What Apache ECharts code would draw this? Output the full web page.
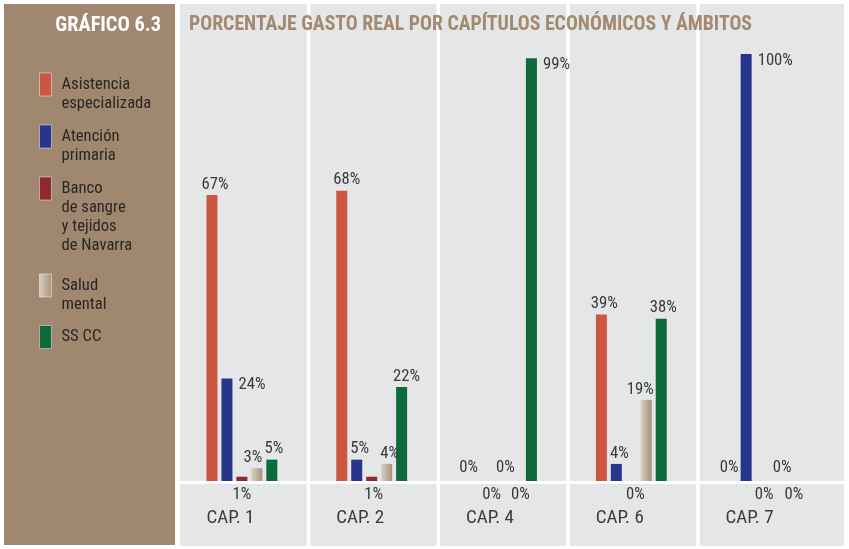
<!DOCTYPE html>
<html>
<head>
<meta charset="utf-8">
<script src="https://cdn.jsdelivr.net/npm/echarts@6/dist/echarts.min.js"></script>
<style>
  html, body { margin: 0; padding: 0; background: #ffffff; }
  #chart { width: 849px; height: 549px; }
</style>
</head>
<body>
<div id="chart"></div>
<script>
// Categories (economic chapters) and series values, in percent
const categories = ['CAP. 1', 'CAP. 2', 'CAP. 4', 'CAP. 6', 'CAP. 7'];
const seriesNames = ['Asistencia especializada', 'Atención primaria', 'Banco de sangre y tejidos de Navarra', 'Salud mental', 'SS CC'];
const legendLabels = ['Asistencia\nespecializada', 'Atención\nprimaria', 'Banco\nde sangre\ny tejidos\nde Navarra', 'Salud\nmental', 'SS CC'];
const asistencia = [67, 68, 0, 39, 0];
const atencion   = [24, 5, 0, 4, 100];
const banco      = [1, 1, 0, 0, 0];
const salud      = [3, 4, 0, 19, 0];
const sscc       = [5, 22, 99, 38, 0];

const TITLE_TEXT = 'PORCENTAJE GASTO REAL POR CAPÍTULOS ECONÓMICOS Y ÁMBITOS';
const BADGE_TEXT = 'GRÁFICO 6.3';

// Pick a condensed face if one is available (font-stretch), otherwise a plain sans
const measureCtx = document.createElement('canvas').getContext('2d');
function textWidth(str, weight, size, family) {
  measureCtx.font = 'normal ' + weight + ' ' + size + 'px ' + family;
  return measureCtx.measureText(str).width;
}
function pickFont() {
  const sample = 'PORCENTAJE GASTO 0123456789 especializada';
  const families = ['Roboto', '"Noto Sans"', '"Open Sans"', '"DejaVu Sans"'];
  for (const f of families) {
    const w0 = textWidth(sample, 'normal', 20, f);
    const w1 = textWidth(sample, 'condensed', 20, f);
    if (w1 < w0 * 0.92) return { family: f, normal: 'condensed', bold: 'bold condensed' };
  }
  return { family: 'Roboto', normal: 'normal', bold: 'bold' };
}
const F = pickFont();
// font size that gives a string a wanted width
function sizeFor(str, wanted, bold) {
  const w = textWidth(str, bold ? F.bold : F.normal, 20, F.family);
  return Math.round(20 * wanted / w * 10) / 10;
}
const SZ = {
  title: sizeFor(TITLE_TEXT, 564, true),
  badge: sizeFor(BADGE_TEXT, 106, true),
  value: sizeFor('67%', 27, false),
  cat: sizeFor('CAP. 1', 48, false),
  legend: sizeFor('especializada', 90, false)
};
const CAP_W = textWidth('CAP. 1', F.normal, SZ.cat, F.family);

const TEXT = '#3a3a3a';

const colors = [
  '#CB5743',
  '#27358C',
  '#8C2A2F',
  new echarts.graphic.LinearGradient(0, 0, 1, 0, [
    { offset: 0, color: '#DAD1C2' },
    { offset: 1, color: '#A6927A' }
  ]),
  '#0D6A3A'
];

// Label placement per series and category: [position, dx, dy]
const labelPlacement = [
  [['top', 3, 0], ['top', 5, 0], ['top', -3, -3], ['top', 3, 0], ['top', -2, -3]],
  [['right', 0, 0], ['top', 3, 0], ['bottom', 5, 0], ['top', 3, 0], ['right', 0, 0]],
  [['bottom', 0, 0], ['bottom', 2, 0], ['top', 4, -3], ['bottom', 4, 0], ['bottom', 3, 0]],
  [['top', -4, 0], ['top', 3, 0], ['bottom', 4, 0], ['top', -6, 0], ['top', 6, -3]],
  [['top', 2, 0], ['top', 5, 0], ['right', 0, 0], ['top', 2, 0], ['bottom', 3, 0]]
];

function labelOpt(p) {
  const [pos, dx, dy] = p;
  const base = {
    show: true,
    formatter: (d) => d.value + '%',
    fontFamily: F.family,
    fontWeight: F.normal,
    fontSize: SZ.value,
    color: TEXT
  };
  if (pos === 'right') {
    return Object.assign(base, { position: [17, -2], align: 'left', verticalAlign: 'top' });
  }
  if (pos === 'bottom') {
    return Object.assign(base, { position: 'bottom', distance: 5, offset: [dx, dy] });
  }
  return Object.assign(base, { position: 'top', distance: 2, offset: [dx, dy] });
}

const allValues = [asistencia, atencion, banco, salud, sscc];

const series = allValues.map((vals, si) => ({
  name: seriesNames[si],
  type: 'bar',
  barWidth: 11,
  barGap: '36%',
  itemStyle: { color: colors[si] },
  data: vals.map((v, ci) => ({ value: v, label: labelOpt(labelPlacement[si][ci]) })),
  emphasis: { disabled: true },
  animation: false
}));

// Legend: one block per series; leading blank lines keep the icon level with the first text line
const iconTops = [73, 125, 177, 274, 325];
const LINE_H = 19;
const ICON_H = 23;
const legends = seriesNames.map((n, i) => {
  const parts = legendLabels[i].split('\n');
  const lines = parts.length;
  const blank = lines - 1;
  const shown = Array(blank).fill('{g|}').concat(parts.map((s) => '{g|}{t|' + s + '}')).join('\n');
  const over = Math.max(0, (lines + blank) * LINE_H / 2 - ICON_H / 2);
  return {
    data: [n],
    left: 39,
    top: iconTops[i] - over,
    padding: 0,
    orient: 'vertical',
    icon: 'rect',
    itemWidth: 12,
    itemHeight: ICON_H,
    selectedMode: false,
    formatter: () => shown,
    itemStyle: { borderColor: 'rgba(255,255,255,0.45)', borderWidth: 1 },
    textStyle: {
      fontFamily: F.family,
      fontWeight: F.normal,
      fontSize: SZ.legend,
      lineHeight: LINE_H,
      color: '#2b2622',
      rich: {
        g: { width: 5, lineHeight: LINE_H },
        t: { fontFamily: F.family, fontWeight: F.normal, fontSize: SZ.legend, lineHeight: LINE_H, color: '#2b2622' }
      }
    }
  };
});

const option = {
  animation: false,
  backgroundColor: '#ffffff',
  title: [
    {
      text: TITLE_TEXT,
      left: 189,
      top: 15,
      padding: 0,
      textStyle: { fontFamily: F.family, fontSize: SZ.title, fontWeight: F.bold, color: '#A38A6F' }
    },
    {
      text: BADGE_TEXT,
      right: 688,
      top: 16,
      padding: 0,
      textStyle: { fontFamily: F.family, fontSize: SZ.badge, fontWeight: F.bold, color: '#ffffff' }
    }
  ],
  legend: legends,
  grid: { left: 177, right: 23, top: 54, bottom: 68, containLabel: false },
  xAxis: {
    type: 'category',
    data: categories,
    axisLine: { show: false },
    axisTick: { show: false },
    axisLabel: {
      margin: 28,
      align: 'center',
      formatter: (v) => '{t|' + v + '}{s|}',
      rich: {
        t: { fontFamily: F.family, fontWeight: F.normal, fontSize: SZ.cat, color: '#3c3c3c' },
        s: { width: Math.max(0, 71 - CAP_W) }
      }
    }
  },
  yAxis: {
    type: 'value',
    min: 0,
    max: 100,
    show: false,
    splitLine: { show: false }
  },
  series: series
};

const chart = echarts.init(document.getElementById('chart'));
chart.setOption(option);

// Panel backgrounds and white separators, placed from the axis scales
const c0 = chart.convertToPixel({ xAxisIndex: 0 }, categories[0]);
const c1 = chart.convertToPixel({ xAxisIndex: 0 }, categories[1]);
const band = c1 - c0;
const baseY = chart.convertToPixel({ yAxisIndex: 0 }, 0);
const elements = [
  { type: 'rect', z: -10, shape: { x: 4, y: 4, width: 171, height: 541 }, style: { fill: '#A08870' } },
  { type: 'rect', z: -10, shape: { x: 180, y: 4, width: 664, height: 542 }, style: { fill: '#E5E6E8' } },
  { type: 'rect', z: -9, shape: { x: 180, y: baseY, width: 664, height: 3 }, style: { fill: '#ffffff' } }
];
for (let k = 0; k < categories.length - 1; k++) {
  const bx = c0 + band * (k + 0.5);
  elements.push({ type: 'rect', z: -9, shape: { x: bx, y: 0, width: 3.5, height: 549 }, style: { fill: '#ffffff' } });
}
chart.setOption({ graphic: { elements: elements } });
</script>
</body>
</html>
